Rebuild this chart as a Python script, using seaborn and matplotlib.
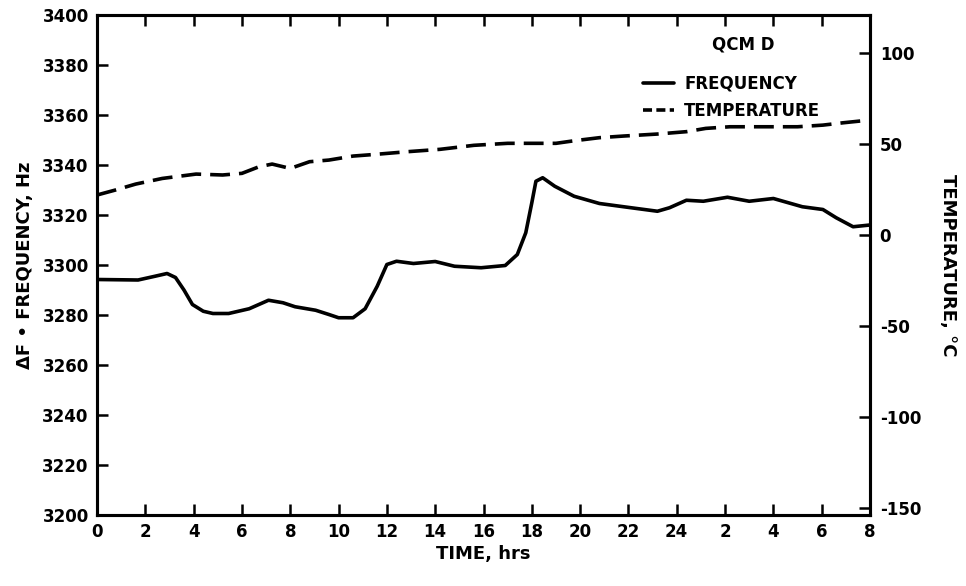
import pandas as pd
import numpy as np
import matplotlib
matplotlib.use("Agg")
import matplotlib.pyplot as plt
import seaborn as sns
from matplotlib.lines import Line2D

# frequency curve (solid)
freq_hours = [0, 1.7, 2.4, 2.9, 3.25, 3.6, 3.95, 4.4, 4.8, 5.45, 6.3, 7.1, 7.7, 8.2,
              9.05, 9.6, 10.0, 10.6, 11.1, 11.6, 12.0, 12.4, 13.1, 14.0, 14.8, 15.9,
              16.9, 17.4, 17.75, 18.0, 18.17, 18.45, 18.95, 19.75, 20.8, 21.8, 23.2,
              23.7, 24.4, 25.1, 26.1, 27.0, 28.0, 29.2, 30.05, 30.6, 31.3, 32.0]
freq_hz = [3294.2, 3294.0, 3295.5, 3296.6, 3295.0, 3290.0, 3284.2, 3281.5, 3280.6,
           3280.6, 3282.5, 3285.9, 3284.9, 3283.3, 3281.9, 3280.2, 3278.9, 3278.9,
           3282.5, 3291.5, 3300.2, 3301.5, 3300.6, 3301.4, 3299.5, 3298.9, 3299.8,
           3304.2, 3312.9, 3324.9, 3333.5, 3334.9, 3331.5, 3327.5, 3324.6, 3323.3,
           3321.5, 3322.9, 3325.9, 3325.5, 3327.1, 3325.5, 3326.6, 3323.3, 3322.2,
           3318.9, 3315.3, 3316.0]

# temperature curve (dashed)
temp_hours = [0, 0.75, 1.6, 2.7, 4.1, 5.2, 6.0, 6.7, 7.25, 8.0, 8.8, 9.6, 10.6, 11.5,
              12.85, 14.2, 15.6, 17.0, 19.0, 19.75, 20.8, 21.8, 23.2, 24.4, 25.2, 26.2,
              29.0, 30.05, 30.9, 32.0]
temp_c = [22.0, 24.7, 28.0, 31.1, 33.5, 33.0, 33.9, 37.5, 39.0, 36.6, 40.3, 41.2, 43.4,
          44.3, 45.8, 47.1, 49.3, 50.4, 50.4, 51.8, 53.5, 54.4, 55.5, 56.8, 58.6, 59.5,
          59.5, 60.4, 61.7, 63.2]

x_ticks = list(range(0, 33, 2))
x_labels = ['0', '2', '4', '6', '8', '10', '12', '14', '16', '18', '20', '22', '24',
            '2', '4', '6', '8']
freq_ticks = list(range(3200, 3401, 20))
temp_ticks = [-150, -100, -50, 0, 50, 100]

sns.set_style("ticks")
plt.rcParams['font.family'] = ['DejaVu Sans']
plt.rcParams['font.weight'] = 'bold'
plt.rcParams['axes.unicode_minus'] = False
for k in ['text.color', 'axes.labelcolor', 'xtick.color', 'ytick.color', 'axes.edgecolor']:
    plt.rcParams[k] = 'black'

fig = plt.figure(figsize=(9.66, 5.86), dpi=100)
ax = fig.add_axes([97 / 966, 1 - 515 / 586, (870 - 97) / 966, 500 / 586])
ax2 = ax.twinx()

df_f = pd.DataFrame({'hours': freq_hours, 'freq': freq_hz})
df_t = pd.DataFrame({'hours': temp_hours, 'temp': temp_c})
sns.lineplot(data=df_f, x='hours', y='freq', ax=ax, color='black', lw=2.6,
             solid_joinstyle='round')
sns.lineplot(data=df_t, x='hours', y='temp', ax=ax2, color='black', lw=2.6,
             linestyle=(0, (5.5, 2.5)))

ax.set_xlim(0, 32)
ax.set_ylim(3200, 3400)
ax2.set_ylim(-153.8, 120.9)
ax.set_xticks(x_ticks)
ax.set_xticklabels(x_labels)
ax.set_yticks(freq_ticks)
ax2.set_yticks(temp_ticks)

ax.tick_params(axis='both', direction='in', length=8, width=1.8, top=True,
               right=False, labelsize=12, pad=6)
ax2.tick_params(axis='y', direction='in', length=8, width=1.8, labelsize=12, pad=7)
for a in (ax, ax2):
    for s in a.spines.values():
        s.set_linewidth(2.2)
        s.set_visible(True)

ax.set_xlabel('TIME, hrs', fontsize=13, fontweight='bold', labelpad=3)
ax.set_ylabel('ΔF • FREQUENCY, Hz', fontsize=13, fontweight='bold', labelpad=6)
ax2.set_ylabel('TEMPERATURE, °C', fontsize=13, fontweight='bold', rotation=270,
               labelpad=26)

fig.text(743 / 966, 1 - 45 / 586, 'QCM D', fontsize=12, fontweight='bold',
         ha='center', va='center')
handles = [Line2D([], [], color='black', lw=2.6),
           Line2D([], [], color='black', lw=2.6, linestyle=(0, (2.5, 1.2)))]
leg = ax2.legend(handles, ['FREQUENCY', 'TEMPERATURE'],
                 frameon=False, loc='upper left',
                 bbox_to_anchor=(631 / 966, 1 - 63 / 586),
                 bbox_transform=fig.transFigure, handlelength=1.9,
                 handletextpad=0.6, labelspacing=0.55, borderpad=0.2,
                 prop={'weight': 'bold', 'size': 12})

fig.savefig('out.png', dpi=100)
